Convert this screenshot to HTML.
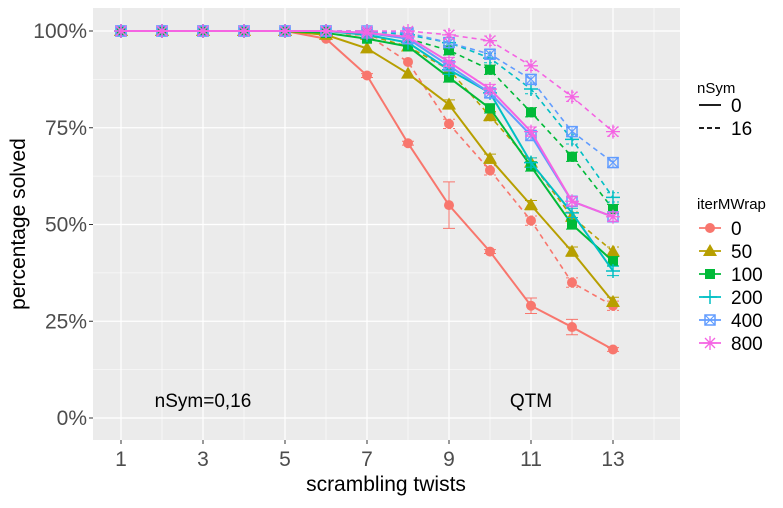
<!DOCTYPE html>
<html><head><meta charset="utf-8"><style>
body{margin:0;background:#fff;font-family:"Liberation Sans",sans-serif}
</style></head><body>
<svg id="c" width="783" height="503" xmlns="http://www.w3.org/2000/svg" font-family="Liberation Sans, sans-serif"></svg>
<script>
const xs=[1,2,3,4,5,6,7,8,9,10,11,12,13];
const iterLevels=["0","50","100","200","400","800"];
const s0_solid=[100,100,100,100,100,98,88.5,71,55,43,29,23.5,17.7];
const s0_dash=[100,100,100,100,100,99,99,92,76,64,51,35,29];
const s50_solid=[100,100,100,100,100,99,95.5,89,81,67,55,43,30];
const s50_dash=[100,100,100,100,100,100,99,96,90,78,66,52,43];
const s100_solid=[100,100,100,100,100,99.5,98,96,88,80,65,50,40.5];
const s100_dash=[100,100,100,100,100,100,99.5,98,95,90,79,67.5,54];
const s200_solid=[100,100,100,100,100,100,99,97,90,84,66,53,38];
const s200_dash=[100,100,100,100,100,100,100,99,97,93,85,72,57];
const s400_solid=[100,100,100,100,100,100,99.5,98,91,84,73,56,52];
const s400_dash=[100,100,100,100,100,100,100,99.5,97,94,87.5,74,66];
const s800_solid=[100,100,100,100,100,100,99.5,98.5,92,85,74,56,52];
const s800_dash=[100,100,100,100,100,100,100,100,99,97.5,91,83,74];
const err0=[0,0,0,0,0,0,0.5,0.5,6,0.5,2,2,0.5];
const yTicks=[0,25,50,75,100];
const xTicks=[1,3,5,7,9,11,13];
const colors=["#F8766D","#B79F00","#00BA38","#00BFC4","#619CFF","#F564E3"];
const series=[[s0_solid,s0_dash],[s50_solid,s50_dash],[s100_solid,s100_dash],[s200_solid,s200_dash],[s400_solid,s400_dash],[s800_solid,s800_dash]];
const L=93,R=680,T=8,B=440;
const X=v=>121+(v-1)*41, Y=v=>418-v*3.87;
const svg=document.getElementById('c');const NS="http://www.w3.org/2000/svg";
function el(t,a,p){const e=document.createElementNS(NS,t);for(const k in a)e.setAttribute(k,a[k]);(p||svg).appendChild(e);return e;}
const bg=el('rect',{x:L,y:T,width:R-L,height:B-T,fill:'#EBEBEB'});

for(let v=12.5;v<100;v+=25)el('line',{x1:L,x2:R,y1:Y(v),y2:Y(v),stroke:'#fff','stroke-width':0.6});
for(let v=2;v<=14;v+=2)el('line',{x1:X(v),x2:X(v),y1:T,y2:B,stroke:'#fff','stroke-width':0.6});
yTicks.forEach(v=>{el('line',{x1:L,x2:R,y1:Y(v),y2:Y(v),stroke:'#fff','stroke-width':1.2});
 const t=el('text',{x:L-6,y:Y(v)+7,'text-anchor':'end','font-size':21,fill:'#4D4D4D'});t.textContent=v+'%';
 
 el('line',{x1:L-4,x2:L,y1:Y(v),y2:Y(v),stroke:'#333'});});
xTicks.forEach(v=>{el('line',{x1:X(v),x2:X(v),y1:T,y2:B,stroke:'#fff','stroke-width':1.2});
 const t=el('text',{x:X(v),y:B+26,'text-anchor':'middle','font-size':21,fill:'#4D4D4D'});t.textContent=v;
 
 el('line',{x1:X(v),x2:X(v),y1:B,y2:B+4,stroke:'#333'});});
function shape(i,cx,cy,c,g){
 if(i==0)el('circle',{cx,cy,r:5,fill:c},g);
 else if(i==1)el('polygon',{points:`${cx},${cy-7} ${cx-7},${cy+5} ${cx+7},${cy+5}`,fill:c},g);
 else if(i==2)el('rect',{x:cx-5,y:cy-5,width:10,height:10,fill:c},g);
 else if(i==3){el('path',{d:`M${cx-7},${cy}H${cx+7}M${cx},${cy-7}V${cy+7}`,stroke:c,'stroke-width':1.5},g);}
 else if(i==4){el('rect',{x:cx-5,y:cy-5,width:10,height:10,fill:'none',stroke:c,'stroke-width':1.5},g);el('path',{d:`M${cx-5},${cy-5}L${cx+5},${cy+5}M${cx+5},${cy-5}L${cx-5},${cy+5}`,stroke:c,'stroke-width':1.2},g);}
 else {el('path',{d:`M${cx-7},${cy}H${cx+7}M${cx},${cy-7}V${cy+7}M${cx-5},${cy-5}L${cx+5},${cy+5}M${cx+5},${cy-5}L${cx-5},${cy+5}`,stroke:c,'stroke-width':1.3},g);}
}
series.forEach((pair,i)=>{pair.forEach((vals,j)=>{
 const g=el('g',{});
 el('polyline',{points:vals.map((v,k)=>X(xs[k])+','+Y(v)).join(' '),fill:'none',stroke:colors[i],'stroke-width':j?1.6:2,'stroke-dasharray':j?'5,4':'none'},g);
 vals.forEach((v,k)=>{const e=(i==0&&j==0)?err0[k]:(xs[k]>=9?1.2:0);
  if(e>0)el('path',{d:`M${X(xs[k])-6},${Y(v-e)}H${X(xs[k])+6}M${X(xs[k])-6},${Y(v+e)}H${X(xs[k])+6}M${X(xs[k])},${Y(v-e)}V${Y(v+e)}`,stroke:colors[i],'stroke-width':1,'stroke-dasharray':j?'3,2':'none'},g);
  shape(i,X(xs[k]),Y(v),colors[i],g);});
});});
function txt(x,y,s,size,anchor,name,extra){const t=el('text',Object.assign({x,y,'font-size':size,'text-anchor':anchor||'start',fill:'#000'},extra||{}));t.textContent=s;return t;}
txt(203,407,'nSym=0,16',19,'middle','annotation-nsym');
txt(531,407,'QTM',19,'middle','annotation-qtm');
txt(386,491,'scrambling twists',21,'middle','x-axis-title');
txt(25,224,'percentage solved',21,'middle','y-axis-title',{transform:'rotate(-90 25 224)'});
txt(697,93,'nSym',15,'start','legend-title-nsym');
[["0",'none'],["16",'5,3']].forEach((e,k)=>{const y=105+k*23;el('line',{x1:699,x2:721,y1:y,y2:y,stroke:'#000','stroke-width':1.8,'stroke-dasharray':e[1]});txt(731,y+7,e[0],19,'start','legend-entry-nsym-'+e[0]);});
txt(697,209,'iterMWrap',15,'start','legend-title-itermwrap');
iterLevels.forEach((lv,i)=>{const y=228+i*23;const g=el('g',{});
 el('line',{x1:699,x2:721,y1:y,y2:y,stroke:colors[i],'stroke-width':1.8},g);shape(i,710,y,colors[i],g);txt(731,y+7,lv,19,'start','legend-entry-'+lv);});
</script>
</body></html>
